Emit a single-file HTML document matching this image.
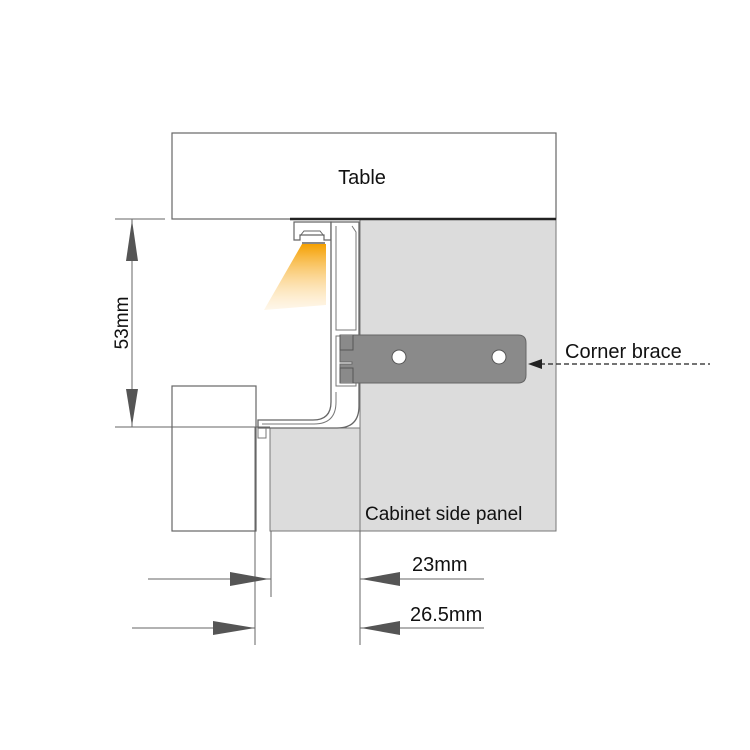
<!DOCTYPE html>
<html><head><style>
body{margin:0;background:#fff}
svg{display:block}
text{font-family:"Liberation Sans",Arial,sans-serif;fill:#111}
</style></head><body>
<svg width="750" height="750" viewBox="0 0 750 750">
<defs>
<linearGradient id="lg" x1="0" y1="0" x2="0" y2="1">
<stop offset="0" stop-color="#f5a000"/><stop offset="1" stop-color="#fde3b8" stop-opacity="0.3"/>
</linearGradient>
</defs>
<!-- gray panel -->
<rect x="360" y="219" width="196" height="312" fill="#dcdcdc" stroke="#777" stroke-width="1"/>
<rect x="270" y="428" width="90" height="103" fill="#dcdcdc" stroke="#777" stroke-width="1"/>
<!-- table -->
<rect x="172" y="133" width="384" height="86" fill="#fff" stroke="#666" stroke-width="1.2"/>
<line x1="290" y1="219" x2="556" y2="219" stroke="#222" stroke-width="2.5"/>
<text x="362" y="184" font-size="20" text-anchor="middle">Table</text>
<!-- left box -->
<rect x="172" y="386" width="84" height="145" fill="#fff" stroke="#666" stroke-width="1.2"/>
<!-- light cone -->
<polygon points="302,244 326,244 326,305 264,310" fill="url(#lg)"/>
<!-- LED profile -->
<path d="M294,222 H331 V240 H324 V235 H300 V240 H294 Z" fill="#fff" stroke="#666" stroke-width="1.2"/>
<path d="M300,236 L304,231 H320 L324,236" fill="none" stroke="#666" stroke-width="1"/>
<line x1="302" y1="243" x2="325" y2="243" stroke="#888" stroke-width="2"/>
<!-- main profile -->
<path d="M331,222 H359 V406 Q359,428 337,428 H258 V420 H313 Q331,420 331,402 Z" fill="#fff" stroke="#666" stroke-width="1.3"/>
<path d="M336,226 V330 H356 V232 L352,226" fill="none" stroke="#777" stroke-width="1"/>
<path d="M336,336 V386 H356 V336 Z" fill="#fff" stroke="#777" stroke-width="1"/>
<path d="M336,392 V402 Q336,424 314,424 H262" fill="none" stroke="#777" stroke-width="1"/>
<path d="M258,428 V438 H266 V428" fill="none" stroke="#777" stroke-width="1"/>
<!-- brace -->
<path d="M340,335 H518 Q526,335 526,343 V375 Q526,383 518,383 H340 V364 H352 V362 H340 Z" fill="#8a8a8a" stroke="#666" stroke-width="1"/>
<path d="M340,335 V350 H353 V335 M340,383 V368 H353 V383" fill="#8a8a8a" stroke="#555" stroke-width="1"/>
<circle cx="399" cy="357" r="7" fill="#fff" stroke="#555"/>
<circle cx="499" cy="357" r="7" fill="#fff" stroke="#555"/>
<line x1="540" y1="364" x2="710" y2="364" stroke="#222" stroke-width="1.3" stroke-dasharray="5,3"/>
<polygon points="528,364 542,359 542,369" fill="#222"/>
<text x="565" y="358" font-size="20">Corner brace</text>
<text x="365" y="520" font-size="19">Cabinet side panel</text>
<!-- 53mm dimension -->
<line x1="115" y1="219" x2="165" y2="219" stroke="#666"/>
<line x1="115" y1="427" x2="270" y2="427" stroke="#666"/>
<line x1="132" y1="219" x2="132" y2="427" stroke="#666"/>
<polygon points="132,220 126,261 138,261" fill="#555"/>
<polygon points="132,426 126,389 138,389" fill="#555"/>
<text transform="translate(128,323) rotate(-90)" font-size="19" text-anchor="middle">53mm</text>
<!-- bottom dimensions -->
<line x1="255" y1="427" x2="255" y2="645" stroke="#666"/>
<line x1="271" y1="531" x2="271" y2="597" stroke="#666"/>
<line x1="360" y1="531" x2="360" y2="645" stroke="#666"/>
<line x1="148" y1="579" x2="271" y2="579" stroke="#666"/>
<polygon points="269,579 230,572 230,586" fill="#555"/>
<line x1="132" y1="628" x2="255" y2="628" stroke="#666"/>
<polygon points="255,628 213,621 213,635" fill="#555"/>
<line x1="360" y1="579" x2="484" y2="579" stroke="#666"/>
<polygon points="361,579 400,572 400,586" fill="#555"/>
<line x1="360" y1="628" x2="484" y2="628" stroke="#666"/>
<polygon points="361,628 400,621 400,635" fill="#555"/>
<text x="412" y="571" font-size="20">23mm</text>
<text x="410" y="621" font-size="20">26.5mm</text>
</svg>
</body></html>
